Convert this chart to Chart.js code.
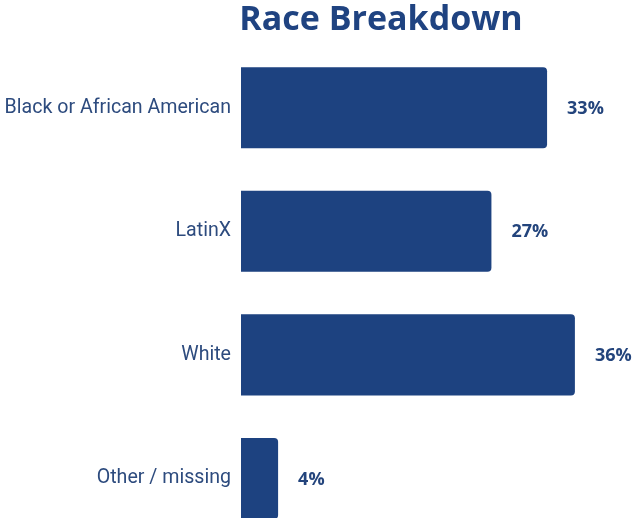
<!DOCTYPE html>
<html>
<head>
<meta charset="utf-8">
<script src="https://cdn.jsdelivr.net/npm/chart.js@4"></script>
<style>
  html, body { margin: 0; padding: 0; background: #fff; overflow: hidden; }
  canvas { display: block; }
</style>
</head>
<body>
<!-- canvas is taller than the window: the last bar gets cut at the bottom edge like the original -->
<canvas id="raceChart" width="634" height="562"></canvas>
<script>
const categories = ["Black or African American", "LatinX", "White", "Other / missing"];
const percentages = [33, 27, 36, 4];
const chartTitle = "Race Breakdown";

const barColor = "#1d4280";

// title + value labels drawn on the canvas
const extraText = {
    id: "extraText",
    afterDatasetsDraw(chart) {
        const ctx = chart.ctx;
        ctx.save();
        ctx.fillStyle = "#1f4381";
        ctx.font = "bold 34px 'Open Sans'";
        ctx.textAlign = "center";
        ctx.textBaseline = "alphabetic";
        ctx.fillText(chartTitle, 381, 30);

        ctx.font = "bold 18px 'Open Sans'";
        ctx.fillStyle = "#23447c";
        ctx.textAlign = "left";
        ctx.textBaseline = "middle";
        chart.getDatasetMeta(0).data.forEach(function (bar, i) {
            ctx.fillText(percentages[i] + "%", bar.x + 20, bar.y + 1);
        });
        ctx.restore();
    }
};

const ctx = document.getElementById("raceChart").getContext("2d");
const chart = new Chart(ctx, {
    type: "bar",
    data: {
        labels: categories,
        datasets: [{
            data: percentages,
            backgroundColor: barColor,
            borderRadius: 4,
            borderSkipped: "start",
            categoryPercentage: 1,
            barPercentage: 0.656
        }]
    },
    plugins: [extraText],
    options: {
        indexAxis: "y",
        responsive: false,
        animation: false,
        layout: { padding: { top: 46, right: 22, bottom: 0, left: 0 } },
        plugins: {
            legend: { display: false },
            tooltip: { enabled: false }
        },
        scales: {
            x: {
                display: false,
                min: 0,
                max: 40
            },
            y: {
                afterFit: function (scale) { scale.width = 241; },
                grid: { display: false, drawTicks: false },
                border: { display: false },
                ticks: {
                    padding: 10,
                    color: "#2d4b7e",
                    font: { family: "Roboto", size: 19.6 }
                }
            }
        }
    }
});
</script>
</body>
</html>
